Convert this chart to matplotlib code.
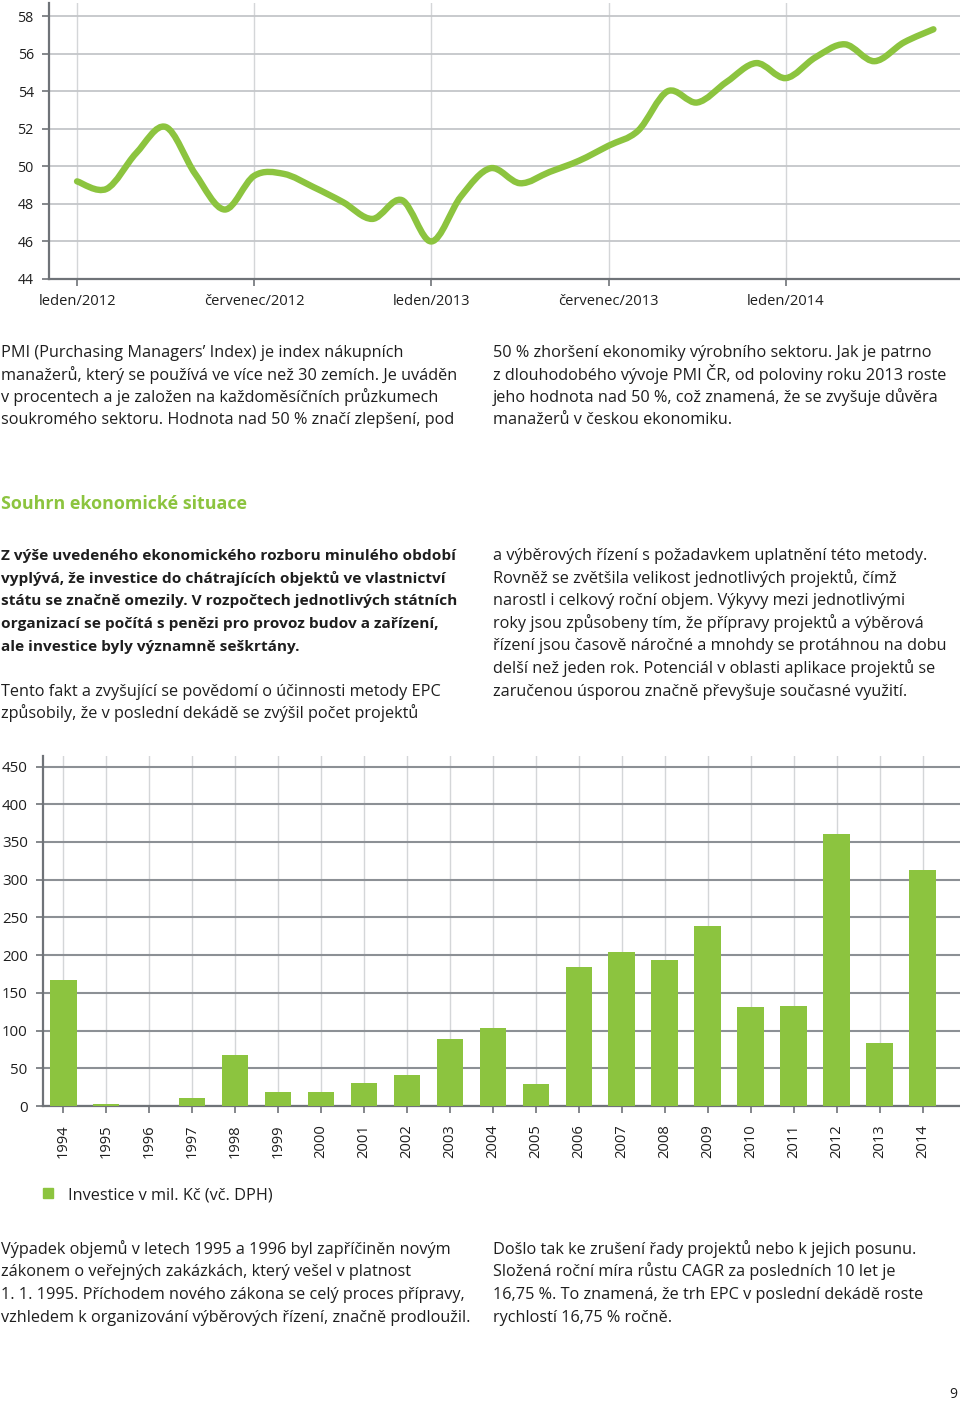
import matplotlib
matplotlib.use("Agg")
import matplotlib.pyplot as plt
import numpy as np
from matplotlib.path import Path
from matplotlib.patches import PathPatch

# ---------------- data ----------------
pmi_values = [49.2, 48.8, 50.7, 52.1, 49.6, 47.7, 49.5, 49.6, 48.9, 48.1,
              47.2, 48.2, 46.0, 48.4, 49.9, 49.1, 49.7, 50.3, 51.1, 51.9,
              54.0, 53.4, 54.5, 55.5, 54.7, 55.8, 56.5, 55.6, 56.6, 57.3]
pmi_tick_labels = ["leden/2012", "červenec/2012", "leden/2013", "červenec/2013", "leden/2014"]
pmi_tick_months = [0, 6, 12, 18, 24]
pmi_yticks = [44, 46, 48, 50, 52, 54, 56, 58]

years = ["1994", "1995", "1996", "1997", "1998", "1999", "2000", "2001", "2002", "2003",
         "2004", "2005", "2006", "2007", "2008", "2009", "2010", "2011", "2012", "2013", "2014"]
investments = [167, 3, 0, 10, 68, 18, 18, 31, 41, 89,
               104, 29, 184, 204, 194, 238, 131, 133, 361, 83, 313]
bar_yticks = [0, 50, 100, 150, 200, 250, 300, 350, 400, 450]
legend_label = "Investice v mil. Kč (vč. DPH)"

GREEN = "#8cc43f"
TEXT = "#1e1e1e"
BODY_FONT = ["Open Sans", "DejaVu Sans"]
BODY_SIZE = 11.7

W, H = 960, 1403
fig = plt.figure(figsize=(W / 100, H / 100), dpi=100)


def ax_rect(x0, y0, x1, y1):
    return [x0 / W, 1 - y1 / H, (x1 - x0) / W, (y1 - y0) / H]


def ftext(x, yc, s, **kw):
    """Place text with its visual centre line at pixel row yc (baseline below)."""
    kw.setdefault("fontsize", BODY_SIZE)
    kw.setdefault("color", TEXT)
    kw.setdefault("family", BODY_FONT)
    kw.setdefault("va", "baseline")
    fig.text(x / W, 1 - (yc + 6) / H, s, **kw)


# ---------------- PMI line chart ----------------
ax1 = fig.add_axes(ax_rect(49, 3, 960, 279))
ax1.set_xlim(-0.95, 29.9)
ax1.set_ylim(44, 58.7)
x = np.arange(len(pmi_values), dtype=float)
y = np.array(pmi_values, dtype=float)

# smooth curve through the data points (Catmull-Rom as cubic Bezier)
verts = [(x[0], y[0])]
codes = [Path.MOVETO]
n = len(x)
for i in range(n - 1):
    p0 = np.array([x[max(i - 1, 0)], y[max(i - 1, 0)]])
    p1 = np.array([x[i], y[i]])
    p2 = np.array([x[i + 1], y[i + 1]])
    p3 = np.array([x[min(i + 2, n - 1)], y[min(i + 2, n - 1)]])
    c1 = p1 + (p2 - p0) / 6.0
    c2 = p2 - (p3 - p1) / 6.0
    verts += [tuple(c1), tuple(c2), tuple(p2)]
    codes += [Path.CURVE4] * 3
ax1.add_patch(PathPatch(Path(verts, codes), fill=False, edgecolor=GREEN,
                        lw=4.6, capstyle="round", joinstyle="round", zorder=3))

ax1.set_yticks(pmi_yticks)
ax1.set_xticks(pmi_tick_months)
ax1.set_xticklabels(pmi_tick_labels)
ax1.grid(axis="y", color="#c4c6c9", lw=1.3)
ax1.grid(axis="x", color="#d4d6d8", lw=1.0)
for s in ["top", "right"]:
    ax1.spines[s].set_visible(False)
for s in ["left", "bottom"]:
    ax1.spines[s].set_color("#6f7378")
    ax1.spines[s].set_linewidth(1.6)
ax1.tick_params(axis="both", colors="#6f7378", length=5, width=1.2, labelcolor=TEXT)
ax1.tick_params(axis="y", pad=6, labelsize=10.2)
ax1.tick_params(axis="x", pad=6, labelsize=10.6)
for lab in ax1.get_xticklabels() + ax1.get_yticklabels():
    lab.set_family(BODY_FONT)
ax1.set_axisbelow(True)

# ---------------- text block 1 ----------------
left1 = ["PMI (Purchasing Managers’ Index) je index nákupních",
         "manažerů, který se používá ve více než 30 zemích. Je uváděn",
         "v procentech a je založen na každoměsíčních průzkumech",
         "soukromého sektoru. Hodnota nad 50 % značí zlepšení, pod"]
right1 = ["50 % zhoršení ekonomiky výrobního sektoru. Jak je patrno",
          "z dlouhodobého vývoje PMI ČR, od poloviny roku 2013 roste",
          "jeho hodnota nad 50 %, což znamená, že se zvyšuje důvěra",
          "manažerů v českou ekonomiku."]
rows1 = [351, 373.5, 396, 418.5]
for yy, s in zip(rows1, left1):
    ftext(1, yy, s)
for yy, s in zip(rows1, right1):
    ftext(493, yy, s)

ftext(1, 503, "Souhrn ekonomické situace", fontsize=12.9, color=GREEN, weight="bold")

bold_lines = ["Z výše uvedeného ekonomického rozboru minulého období",
              "vyplývá, že investice do chátrajících objektů ve vlastnictví",
              "státu se značně omezily. V rozpočtech jednotlivých státních",
              "organizací se počítá s penězi pro provoz budov a zařízení,",
              "ale investice byly významně seškrtány."]
rows2 = [554, 577, 599.5, 622, 644.5]
for yy, s in zip(rows2, bold_lines):
    ftext(1, yy, s, weight="bold", fontsize=11.1)
ftext(1, 690, "Tento fakt a zvyšující se povědomí o účinnosti metody EPC")
ftext(1, 712.5, "způsobily, že v poslední dekádě se zvýšil počet projektů")

right2 = ["a výběrových řízení s požadavkem uplatnění této metody.",
          "Rovněž se zvětšila velikost jednotlivých projektů, čímž",
          "narostl i celkový roční objem. Výkyvy mezi jednotlivými",
          "roky jsou způsobeny tím, že přípravy projektů a výběrová",
          "řízení jsou časově náročné a mnohdy se protáhnou na dobu",
          "delší než jeden rok. Potenciál v oblasti aplikace projektů se",
          "zaručenou úsporou značně převyšuje současné využití."]
for i, s in enumerate(right2):
    ftext(493, 554 + 22.6 * i, s)

# ---------------- bar chart ----------------
ax2 = fig.add_axes(ax_rect(43, 756, 960, 1106))
pos = np.arange(len(years))
ax2.bar(pos, investments, width=0.62, color=GREEN, zorder=3)
ax2.set_xlim(-0.47, 20.87)
ax2.set_ylim(0, 464)
ax2.set_yticks(bar_yticks)
ax2.set_xticks(pos)
ax2.set_xticklabels(years, rotation=90)
ax2.grid(axis="y", color="#8c9095", lw=1.5)
ax2.grid(axis="x", color="#d4d6d8", lw=1.0)
ax2.set_axisbelow(True)
for s in ["top", "right"]:
    ax2.spines[s].set_visible(False)
for s in ["left", "bottom"]:
    ax2.spines[s].set_color("#6f7378")
    ax2.spines[s].set_linewidth(1.6)
ax2.tick_params(axis="both", colors="#6f7378", length=5, width=1.2, labelcolor=TEXT)
ax2.tick_params(axis="y", pad=6, labelsize=10.8)
ax2.tick_params(axis="x", pad=8, labelsize=10.6)
for lab in ax2.get_xticklabels() + ax2.get_yticklabels():
    lab.set_family(BODY_FONT)

# legend
fig.patches.append(plt.Rectangle((43 / W, 1 - 1198 / H), 10 / W, 10 / H,
                                 transform=fig.transFigure, color=GREEN))
ftext(68, 1193, legend_label)

# ---------------- bottom text ----------------
left3 = ["Výpadek objemů v letech 1995 a 1996 byl zapříčiněn novým",
         "zákonem o veřejných zakázkách, který vešel v platnost",
         "1. 1. 1995. Příchodem nového zákona se celý proces přípravy,",
         "vzhledem k organizování výběrových řízení, značně prodloužil."]
right3 = ["Došlo tak ke zrušení řady projektů nebo k jejich posunu.",
          "Složená roční míra růstu CAGR za posledních 10 let je",
          "16,75 %. To znamená, že trh EPC v poslední dekádě roste",
          "rychlostí 16,75 % ročně."]
rows3 = [1248, 1270.5, 1293, 1315.5]
for yy, s in zip(rows3, left3):
    ftext(1, yy, s)
for yy, s in zip(rows3, right3):
    ftext(493, yy, s)

fig.text(953 / W, 1 - 1402 / H, "9", fontsize=10, ha="center", va="bottom",
         color=TEXT, family=BODY_FONT)

fig.savefig("out.png", dpi=100, facecolor="white")
